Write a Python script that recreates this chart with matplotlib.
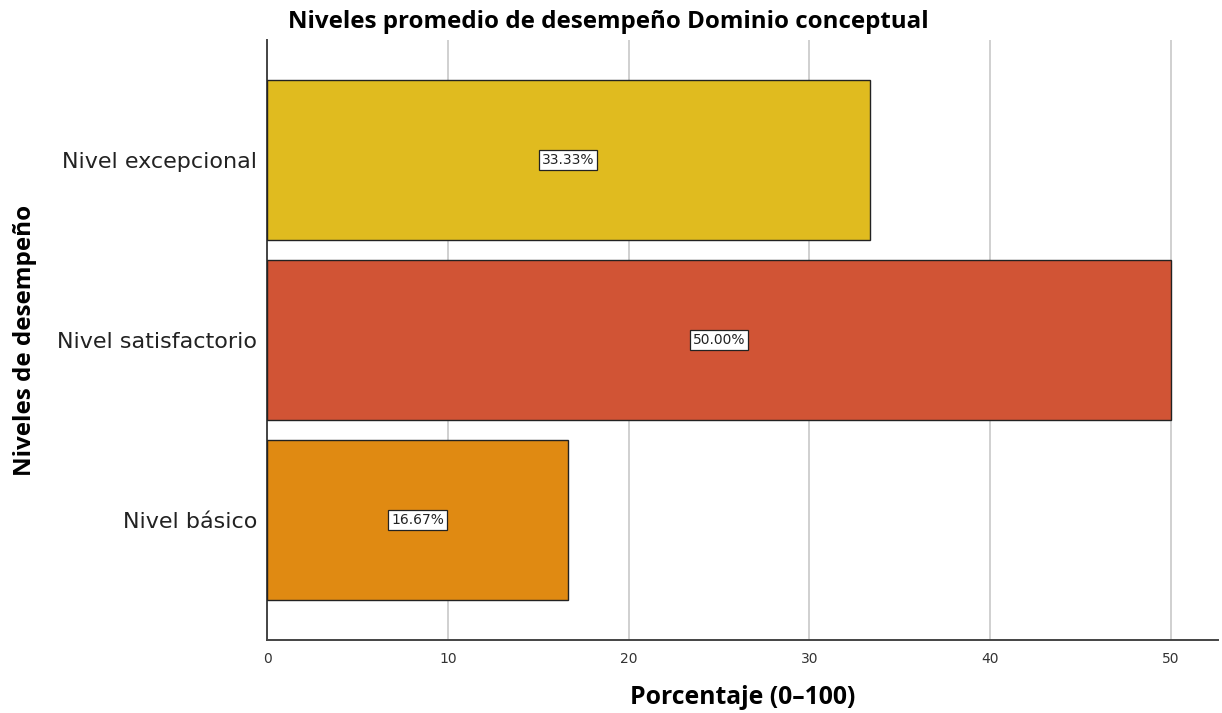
import matplotlib.pyplot as plt

# niveles de desempeño (de abajo hacia arriba) y su porcentaje
niveles = ['Nivel básico', 'Nivel satisfactorio', 'Nivel excepcional']
porcentajes = [16.67, 50.00, 33.33]
colores = ['#E08A12', '#D15435', '#E0BB1F']
marcas_x = [0, 10, 20, 30, 40, 50]

plt.rcParams['font.family'] = ['DejaVu Sans']
negrita = ['Open Sans', 'DejaVu Sans']

fig = plt.figure(figsize=(12.22, 7.13), dpi=100)
ax = fig.add_axes([0.2185, 0.1024, 0.7782, 0.8415])

posiciones = list(range(len(niveles)))
ax.barh(posiciones, porcentajes, height=0.89, color=colores,
        edgecolor='#222222', linewidth=1.0, zorder=3)

for pos, valor in zip(posiciones, porcentajes):
    ax.text(valor / 2, pos, f'{valor:.2f}%', ha='center', va='center',
            fontsize=10, color='#222222', zorder=4,
            bbox=dict(boxstyle='square,pad=0.2', facecolor='white',
                      edgecolor='#222222', linewidth=0.9))

ax.set_xlim(0, 52.6)
ax.set_ylim(-0.667, 2.667)
ax.set_xticks(marcas_x)
ax.set_yticks(posiciones)
ax.set_yticklabels(niveles, fontsize=16, color='#222222')
ax.tick_params(axis='x', length=0, pad=9, labelsize=10, labelcolor='#333333')
ax.tick_params(axis='y', length=0, pad=7)

ax.grid(axis='x', color='#c8c8c8', linewidth=1.2, zorder=0)
ax.set_axisbelow(True)
for lado in ['top', 'right']:
    ax.spines[lado].set_visible(False)
for lado in ['left', 'bottom']:
    ax.spines[lado].set_color('#444444')
    ax.spines[lado].set_linewidth(1.4)

fig.text(0.608, 0.0224, 'Porcentaje (0–100)', ha='center', va='center',
         fontsize=17.8, fontweight='bold', family=negrita)
fig.text(0.0205, 0.523, 'Niveles de desempeño', rotation=90, ha='center', va='center',
         fontsize=17.5, fontweight='bold', family=negrita)
fig.text(0.4975, 0.969, 'Niveles promedio de desempeño Dominio conceptual',
         ha='center', va='center', fontsize=17.4, fontweight='bold', family=negrita)

fig.savefig('out.png', dpi=100, facecolor='white')
